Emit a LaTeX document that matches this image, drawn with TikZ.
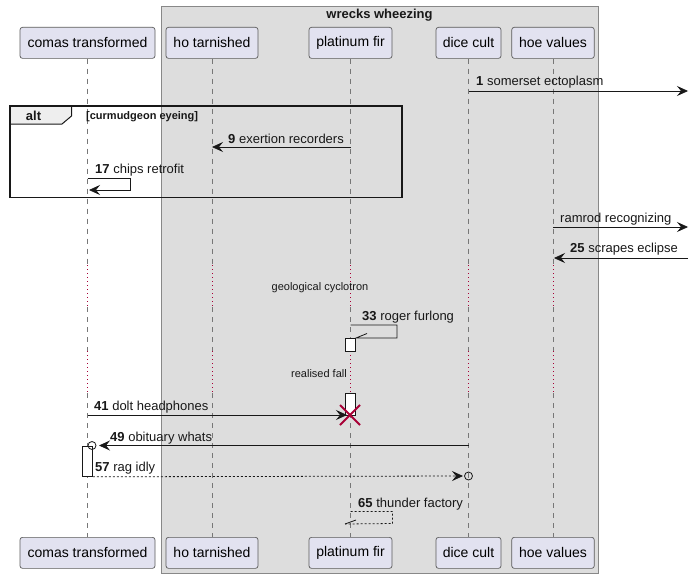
\documentclass[tikz,border=0pt]{standalone}
\usepackage{fontspec}
\setmainfont{Liberation Sans}
\usetikzlibrary{arrows.meta}
\definecolor{partfill}{HTML}{E2E2F0}
\definecolor{partline}{HTML}{5A5A5A}
\definecolor{boxfill}{HTML}{DDDDDD}
\definecolor{boxline}{HTML}{888888}
\definecolor{lifel}{HTML}{777777}
\definecolor{delayc}{HTML}{A80036}
\definecolor{tabfill}{HTML}{EEEEEE}
\definecolor{ink}{HTML}{181818}
\begin{document}
\begin{tikzpicture}[x=1pt,y=-1pt,
  part/.style={draw=partline, fill=partfill, rounded corners=2.5pt, line width=0.7pt,
    minimum height=31pt, inner sep=0pt, font=\fontsize{14}{16}\selectfont, anchor=north},
  life/.style={draw=lifel, dash pattern=on 5pt off 5pt, line width=0.8pt},
  delayl/.style={draw=delayc, dash pattern=on 0.9pt off 3.1pt, line width=1pt},
  msg/.style={draw=ink, line width=0.8pt, -{Stealth[length=11pt,width=10pt,inset=4pt]}},
  plain/.style={draw=ink, line width=0.8pt},
  dashmsg/.style={dash pattern=on 2pt off 2pt},
  lbl/.style={anchor=west, inner sep=0pt, font=\fontsize{13}{15}\selectfont, text=ink},
  small/.style={inner sep=0pt, font=\fontsize{11}{13}\selectfont, text=ink},
  actbox/.style={draw=ink, fill=white, line width=0.8pt},
  destroy/.style={draw=delayc, line width=1.8pt}
]
\useasboundingbox (0,0) rectangle (692,578);
% group box
\draw[draw=boxline, fill=boxfill, line width=0.9pt] (161,6) rectangle (598,573);
\node[inner sep=0pt, font=\bfseries\fontsize{13}{15}\selectfont, text=ink] (gt) at (379.5,15.5) {wrecks wheezing};
% participants
\node[part, minimum width=135pt] (pA) at (87.5,27) {comas transformed};
\node[part, minimum width=92pt] (pB) at (212,27) {ho tarnished};
\node[part, minimum width=83pt] (pC) at (350.5,27) {platinum fir};
\node[part, minimum width=65pt] (pD) at (468.5,27) {dice cult};
\node[part, minimum width=82.5pt] (pE) at (553,27) {hoe values};
\node[part, minimum width=135pt] (bA) at (87.5,537) {comas transformed};
\node[part, minimum width=92pt] (bB) at (212,537) {ho tarnished};
\node[part, minimum width=83pt] (bC) at (350.5,537) {platinum fir};
\node[part, minimum width=65pt] (bD) at (468.5,537) {dice cult};
\node[part, minimum width=82.5pt] (bE) at (553,537) {hoe values};
% lifelines
\foreach \n in {A,B,C,D,E}{
  \draw[life] (p\n.south) -- (p\n.south |- 0,265);
  \draw[delayl] (p\n.south |- 0,265) -- (p\n.south |- 0,307);
  \draw[life] (p\n.south |- 0,307) -- (p\n.south |- 0,351);
  \draw[delayl] (p\n.south |- 0,351) -- (p\n.south |- 0,393);
  \draw[life] (p\n.south |- 0,393) -- (b\n.north);
}
% alt frame
\draw[draw=ink, fill=tabfill, line width=1pt] (10,106) -- (71.5,106) -- (71.5,116) -- (62,124) -- (10,124) -- cycle;
\draw[draw=ink, line width=1.5pt] (10,106) rectangle (402,197.5);
\node[inner sep=0pt, font=\bfseries\fontsize{13}{15}\selectfont, text=ink] (altl) at (33.5,116) {alt};
\node[small, anchor=west, font=\bfseries\fontsize{11}{13}\selectfont] (altc) at (86,116.5) {[curmudgeon eyeing]};
% coordinates
\coordinate (m1a) at (pD.south |- 0,91);   \coordinate (m1b) at (688,91);
\coordinate (m9a) at (pC.south |- 0,147);  \coordinate (m9b) at (pB.south |- 0,147);
\coordinate (m17a) at (pA.south |- 0,178); \coordinate (m17b) at (130,178);
\coordinate (m17c) at (130,190);           \coordinate (m17d) at (89,190);
\coordinate (mra) at (pE.south |- 0,227);  \coordinate (mrb) at (688,227);
\coordinate (m25a) at (688,258);           \coordinate (m25b) at (554,258);
% messages
\draw[msg] (m1a) -- (m1b);
\node[lbl] (t1) at (476,82.5) {\textbf{1} somerset ectoplasm};
\draw[msg] (m9a) -- (m9b);
\node[lbl] (t9) at (228,138.5) {\textbf{9} exertion recorders};
\draw[msg] (m17a) -- (m17b) -- (m17c) -- (m17d);
\node[lbl] (t17) at (95,170.5) {\textbf{17} chips retrofit};
\draw[msg] (mra) -- (mrb);
\node[lbl] (tr) at (560,219.5) {ramrod recognizing};
\draw[msg] (m25a) -- (m25b);
\node[lbl] (t25) at (570,249.5) {\textbf{25} scrapes eclipse};
\node[small] (d1) at (320,288) {geological cyclotron};
% 33 self message
\coordinate (m33a) at (pC.south |- 0,325); \coordinate (m33b) at (397,325);
\coordinate (m33c) at (397,338);           \coordinate (m33d) at (356,338);
\coordinate (m33e) at (367,333.5);
\draw[plain] (m33a) -- (m33b) -- (m33c) -- (m33d) -- (m33e);
\node[lbl] (t33) at (362,317.5) {\textbf{33} roger furlong};
\node[actbox, inner sep=0pt, minimum width=10pt, minimum height=13pt, anchor=north] (act1) at (350,338) {};
\node[small, anchor=east] (d2) at (347,374) {realised fall};
\node[actbox, inner sep=0pt, minimum width=10pt, minimum height=22pt, anchor=north] (act2) at (350,393) {};
% 41
\coordinate (m41a) at (pA.south |- 0,415); \coordinate (m41b) at (347,415);
\draw[msg] (m41a) -- (m41b);
\node[lbl] (t41) at (94,407.5) {\textbf{41} dolt headphones};
\coordinate (xc) at (350,415);
\draw[destroy] (xc) ++(-10,-10) -- ++(20,20);
\draw[destroy] (xc) ++(-10,10) -- ++(20,-20);
% activation comas
\node[actbox, inner sep=0pt, minimum width=10pt, minimum height=30.5pt, anchor=north] (act3) at (87.5,445.5) {};
% 49
\coordinate (m49a) at (pD.south |- 0,445.5); \coordinate (m49b) at (99,445.5);
\coordinate (c49) at (92,445.5);
\draw[msg] (m49a) -- (m49b);
\draw[plain] (c49) circle (4pt);
\node[lbl] (t49) at (110,438) {\textbf{49} obituary whats};
% 57
\coordinate (m57a) at (act3.south east); \coordinate (m57b) at (463,476);
\coordinate (c57) at (468.5,476);
\draw[msg, dashmsg] (m57a) -- (m57b);
\draw[plain] (c57) circle (4pt);
\node[lbl] (t57) at (95,468) {\textbf{57} rag idly};
% 65
\coordinate (m65a) at (pC.south |- 0,511.5); \coordinate (m65b) at (392.5,511.5);
\coordinate (m65c) at (392.5,523.5);         \coordinate (m65d) at (345,524);
\coordinate (m65e) at (356,520);
\draw[plain, dashmsg] (m65a) -- (m65b) -- (m65c) -- (m65d);
\draw[plain] (m65d) -- (m65e);
\node[lbl] (t65) at (358,504) {\textbf{65} thunder factory};
\end{tikzpicture}
\end{document}
